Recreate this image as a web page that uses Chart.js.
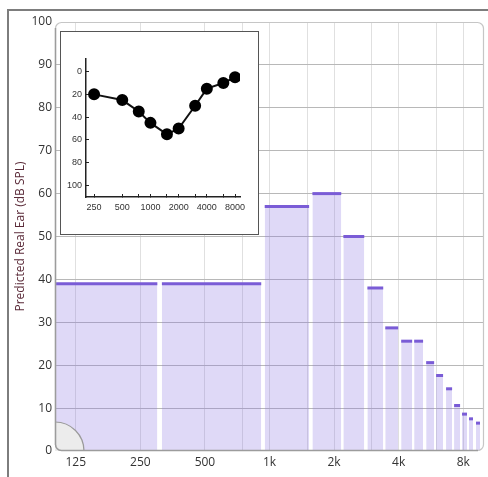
<!DOCTYPE html>
<html><head><meta charset="utf-8">
<script src="https://cdn.jsdelivr.net/npm/chart.js@4/dist/chart.umd.min.js"></script>
<style>
html,body{margin:0;padding:0;background:#fff;}
#wrap{position:relative;width:488px;height:477px;overflow:hidden;}
#main{position:absolute;left:0;top:0;}
#inset{position:absolute;left:60px;top:31px;width:197px;height:202px;border:1px solid #555;background:#fff;}
#ins{position:absolute;left:0;top:0;}
</style></head><body>
<div id="wrap">
<canvas id="main" width="488" height="477"></canvas>
<div id="inset"><canvas id="ins" width="197" height="202"></canvas></div>
</div>
<script>
// ---- Main chart data (frequency bands, Hz, and predicted real-ear level, dB SPL)
const bandLowHz  = [100, 315, 950, 1585, 2210, 2860, 3465, 4110, 4725, 5375, 5980, 6655, 7255, 7900, 8515, 9175];
const bandHighHz = [300, 915, 1530, 2160, 2765, 3390, 3980, 4625, 5200, 5855, 6445, 7100, 7735, 8330, 8885, 9580];
const bandLevelDb = [39, 39, 57, 60, 50, 38, 28.7, 25.6, 25.6, 20.6, 17.6, 14.5, 10.6, 8.6, 7.5, 6.5];
const gridFreqs = [100, 125, 250, 500, 750, 1000, 1500, 2000, 3000, 4000, 6000, 8000, 10000];
const freqTickLabels = {125: '125', 250: '250', 500: '500', 1000: '1k', 2000: '2k', 4000: '4k', 8000: '8k'};
const levelTicks = [0, 10, 20, 30, 40, 50, 60, 70, 80, 90, 100];

// ---- Inset audiogram data
const audFreqs = [250, 500, 750, 1000, 1500, 2000, 3000, 4000, 6000, 8000];
const audThresholds = [20, 25, 35, 45, 55, 50, 30, 15, 10, 5];
const audFreqLabels = [250, 500, 1000, 2000, 4000, 8000];
const audLevelTicks = [0, 20, 40, 60, 80, 100];

const MAINFONT = "'Open Sans', 'Noto Sans', sans-serif";

const deco = {
  id: 'deco',
  beforeDraw(chart) {
    const ctx = chart.ctx;
    ctx.save();
    ctx.strokeStyle = '#7d7d7d';
    ctx.lineWidth = 2;
    ctx.beginPath();
    ctx.moveTo(8, 477); ctx.lineTo(8, 10); ctx.lineTo(488, 10);
    ctx.stroke();
    ctx.restore();
  },
  afterDatasetsDraw(chart) {
    const ctx = chart.ctx, a = chart.chartArea;
    ctx.save();
    // quarter circle decoration at origin
    ctx.beginPath();
    ctx.moveTo(a.left, a.bottom);
    ctx.arc(a.left, a.bottom, 29, -Math.PI / 2, 0);
    ctx.closePath();
    ctx.fillStyle = '#ececec';
    ctx.fill();
    ctx.beginPath();
    ctx.arc(a.left, a.bottom, 29, -Math.PI / 2, 0);
    ctx.strokeStyle = '#9a9a9a';
    ctx.lineWidth = 1.2;
    ctx.stroke();
    // rounded plot border
    const r = 6;
    ctx.beginPath();
    ctx.roundRect(a.left + 0.5, a.top + 0.5, a.right - a.left - 1, a.bottom - a.top - 1, r);
    ctx.strokeStyle = '#c6c6c6';
    ctx.lineWidth = 1.2;
    ctx.stroke();
    ctx.beginPath();
    ctx.moveTo(a.left + 0.5, a.top + r);
    ctx.lineTo(a.left + 0.5, a.bottom - r);
    ctx.arcTo(a.left + 0.5, a.bottom - 0.5, a.left + r, a.bottom - 0.5, r);
    ctx.lineTo(a.right - r, a.bottom - 0.5);
    ctx.strokeStyle = '#9c9c9c';
    ctx.lineWidth = 1.5;
    ctx.stroke();
    ctx.restore();
  }
};

const datasets = bandLevelDb.map((v, i) => ({
  data: [{x: bandLowHz[i], y: v}, {x: bandHighHz[i], y: v}],
  fill: 'origin',
  backgroundColor: 'rgba(140,120,225,0.28)',
  borderColor: '#7a5cd6',
  borderWidth: 3,
  borderCapStyle: 'butt',
  pointRadius: 0,
  tension: 0
}));

new Chart(document.getElementById('main'), {
  type: 'line',
  data: {datasets},
  options: {
    responsive: false,
    animation: false,
    layout: {padding: {left: 0, top: 22, right: 3, bottom: 0}},
    plugins: {legend: {display: false}, tooltip: {enabled: false}},
    scales: {
      x: {
        type: 'logarithmic', min: 100, max: 10000,
        afterBuildTicks: s => { s.ticks = gridFreqs.map(v => ({value: v})); },
        afterFit: s => { s.height = 26; },
        ticks: {autoSkip: false, maxRotation: 0, padding: 4, color: '#333',
          font: {family: MAINFONT, size: 12},
          callback: v => freqTickLabels[v] || ''},
        grid: {drawTicks: false,
          color: c => (c.tick && (c.tick.value === 100 || c.tick.value === 10000)) ? 'rgba(0,0,0,0)' : '#e0e0e0'},
        border: {display: false}
      },
      y: {
        type: 'linear', min: 0, max: 100,
        afterBuildTicks: s => { s.ticks = levelTicks.map(v => ({value: v})); },
        afterFit: s => { s.width = 55; },
        ticks: {padding: 3, color: '#333', font: {family: MAINFONT, size: 12}},
        grid: {drawTicks: false,
          color: c => (c.tick && (c.tick.value === 0 || c.tick.value === 100)) ? 'rgba(0,0,0,0)' : '#b8b8b8'},
        border: {display: false},
        title: {display: true, text: 'Predicted Real Ear (dB SPL)', color: '#5a2a38',
          font: {family: MAINFONT, size: 12}, padding: {top: 13, bottom: 0}}
      }
    }
  },
  plugins: [deco]
});

const INSFONT = "'Liberation Sans', Arial, sans-serif";
new Chart(document.getElementById('ins'), {
  type: 'line',
  data: {datasets: [{
    data: audFreqs.map((f, i) => ({x: f, y: audThresholds[i]})),
    borderColor: '#111', borderWidth: 2,
    pointRadius: 5, pointBackgroundColor: '#000', pointBorderColor: '#000',
    tension: 0, fill: false
  }]},
  options: {
    responsive: false,
    animation: false,
    layout: {padding: {left: 0, top: 27, right: 18, bottom: 0}},
    plugins: {legend: {display: false}, tooltip: {enabled: false}},
    scales: {
      x: {
        type: 'logarithmic', min: 205, max: 9040,
        afterBuildTicks: s => { s.ticks = audFreqs.map(v => ({value: v})); },
        afterFit: s => { s.height = 37; },
        ticks: {autoSkip: false, maxRotation: 0, padding: 8, color: '#333',
          font: {family: INSFONT, size: 9},
          callback: v => audFreqLabels.includes(v) ? String(v) : ''},
        grid: {drawOnChartArea: false, drawTicks: true, tickLength: -3, color: '#222'},
        border: {display: true, color: '#222', width: 1.5}
      },
      y: {
        type: 'linear', reverse: true, min: -11, max: 110,
        afterBuildTicks: s => { s.ticks = audLevelTicks.map(v => ({value: v})); },
        afterFit: s => { s.width = 25; },
        ticks: {padding: 7, color: '#333', font: {family: INSFONT, size: 9}},
        grid: {drawOnChartArea: false, drawTicks: true, tickLength: -3, color: '#222'},
        border: {display: true, color: '#222', width: 1.5}
      }
    }
  }
});
</script>
</body></html>
